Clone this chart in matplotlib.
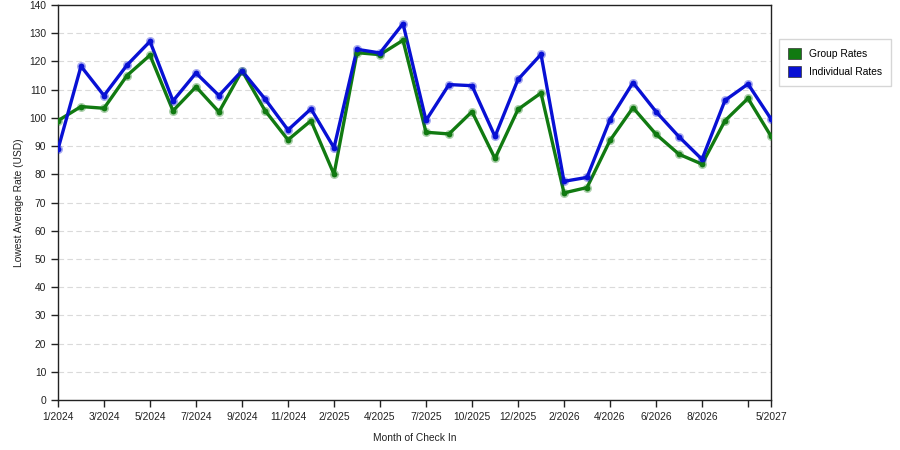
import matplotlib
matplotlib.use("Agg")
import matplotlib.pyplot as plt
from matplotlib.patches import Patch

plt.rcParams['font.family'] = ['Liberation Sans', 'DejaVu Sans']

# month slots (only every other one is labelled in the original)
tick_idx = [0, 2, 4, 6, 8, 10, 12, 14, 16, 18, 20, 22, 24, 26, 28, 30, 31]
tick_labels = ["1/2024", "3/2024", "5/2024", "7/2024", "9/2024", "11/2024",
               "2/2025", "4/2025", "7/2025", "10/2025", "12/2025", "2/2026",
               "4/2026", "6/2026", "8/2026", "", "5/2027"]

group_rates = [99, 104, 103.4, 115, 122.2, 102.5, 111, 102.1, 116.7, 102.6,
               92.2, 99, 80, 123.1, 122.4, 127.5, 94.9, 94.3, 102.2, 85.6,
               103, 108.8, 73.4, 75.3, 92, 103.6, 94.2, 87.1, 83.6, 99,
               106.9, 93.5]
indiv_rates = [88.9, 118.3, 107.9, 118.7, 127.1, 106, 115.9, 107.9, 116.7, 106.7,
               95.7, 103.2, 89.4, 124.3, 123, 133.4, 99.1, 111.8, 111.4, 93.4,
               113.6, 122.5, 77.5, 78.9, 99.4, 112.5, 102.2, 93.3, 85.3, 106.2,
               112, 99.6]

green = "#117a11"
blue = "#0810d4"
fs = 7.4

fig = plt.figure(figsize=(9, 4.5), dpi=100)
ax = fig.add_axes([58 / 900, 50 / 450, 713 / 900, 395 / 450])

x = list(range(len(group_rates)))
for vals, col in [(group_rates, green), (indiv_rates, blue)]:
    ax.plot(x, vals, color=col, lw=2.4, zorder=3, solid_capstyle="round")
    # soft halo behind the markers
    ax.plot(x, vals, "o", color=col, ms=6.5, alpha=0.35, mec="none", zorder=4)
    ax.plot(x, vals, "o", color=col, ms=4.2, mec="none", zorder=5)

ax.set_xlim(0, 31)
ax.set_ylim(0, 140)
ax.set_yticks(range(0, 141, 10))
ax.set_xticks(tick_idx)
ax.set_xticklabels(tick_labels)
ax.tick_params(labelsize=fs, length=5, width=1, color="#222222", labelcolor="#222222")

for y in range(10, 140, 10):
    ax.axhline(y, color="#dadada", lw=0.8, ls=(0, (5, 3)), zorder=1)

for s in ax.spines.values():
    s.set_color("#222222")
    s.set_linewidth(1)

ax.set_xlabel("Month of Check In", fontsize=fs, color="#222222", labelpad=8)
ax.set_ylabel("Lowest Average Rate (USD)", fontsize=fs, color="#222222", labelpad=4)

handles = [Patch(facecolor=green, edgecolor="#333333", lw=0.5, label="Group Rates"),
           Patch(facecolor=blue, edgecolor="#333333", lw=0.5, label="Individual Rates")]
fig.legend(handles=handles, loc="upper left", bbox_to_anchor=(779 / 900, 1 - 39 / 450),
           borderaxespad=0, fontsize=fs, frameon=True, fancybox=False, edgecolor="#cccccc",
           handlelength=1.3, handleheight=1.3, borderpad=0.85, labelspacing=0.65,
           handletextpad=0.75)

fig.savefig("out.png", dpi=100)
